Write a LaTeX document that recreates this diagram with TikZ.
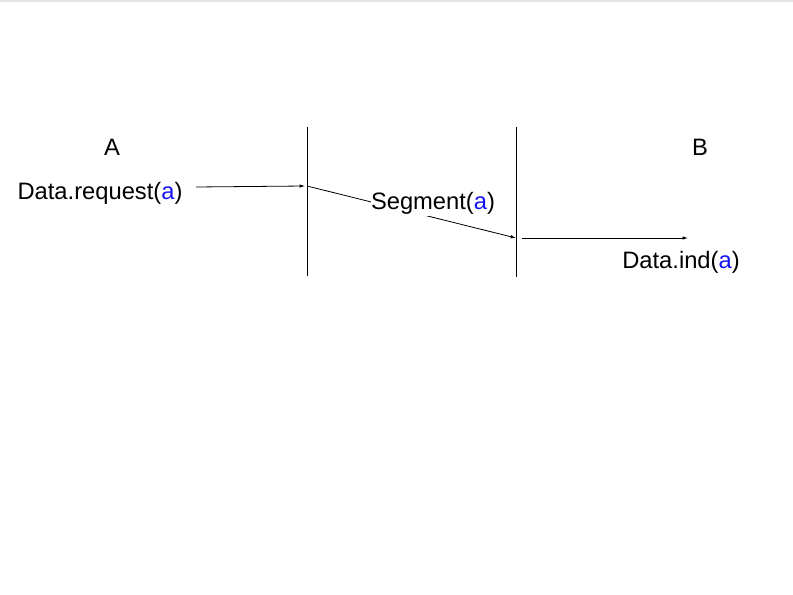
\documentclass[tikz,border=0pt]{standalone}
\usepackage{xcolor}
\usepackage{fontspec}
\setmainfont{Liberation Sans}
\usetikzlibrary{arrows.meta, positioning}
\definecolor{argColor}{RGB}{20, 20, 245}
\newcommand{\argtxt}[1]{\textcolor{argColor}{#1}}

\begin{document}
\begin{tikzpicture}[x=0.75pt, y=-0.75pt,
    lbl/.style={inner sep=0pt, font=\fontsize{17.8}{20}\selectfont},
    msg/.style={line width=0.6pt, -{Latex[length=4pt, width=2.6pt]}},
    life/.style={line width=0.7pt}]
    \useasboundingbox (0,0) rectangle (793,595);
    \draw[black!10, line width=1.2pt] (0,0.8) -- (793,0.8);

    % Lifelines
    \coordinate (l1top) at (307,127);
    \coordinate (l1bot) at (307,276);
    \coordinate (l2top) at (516,127);
    \coordinate (l2bot) at (516,277);
    \draw[life] (l1top) -- (l1bot);
    \draw[life] (l2top) -- (l2bot);

    % Sides
    \node[lbl] (A) at (112,147) {A};
    \node[lbl] (B) at (700,147) {B};

    % Primitives
    \node[lbl] (req) at (100,193) {Data.request(\argtxt{a})};
    \node[lbl] (ind) at (681,262) {Data.ind(\argtxt{a})};

    \coordinate (s1) at (196,187);
    \coordinate (e1) at (305,186);
    \coordinate (s2) at (307,186);
    \coordinate (e2) at (516,238);
    \coordinate (s3) at (522,238);
    \coordinate (e3) at (688,238);

    \draw[msg] (s1) -- (e1);
    \draw[msg] (s2) -- (e2);
    \node[lbl, fill=white, inner ysep=1.5pt] (seg) at (433,203) {Segment(\argtxt{a})};
    \draw[msg] (s3) -- (e3);

\end{tikzpicture}
\end{document}
